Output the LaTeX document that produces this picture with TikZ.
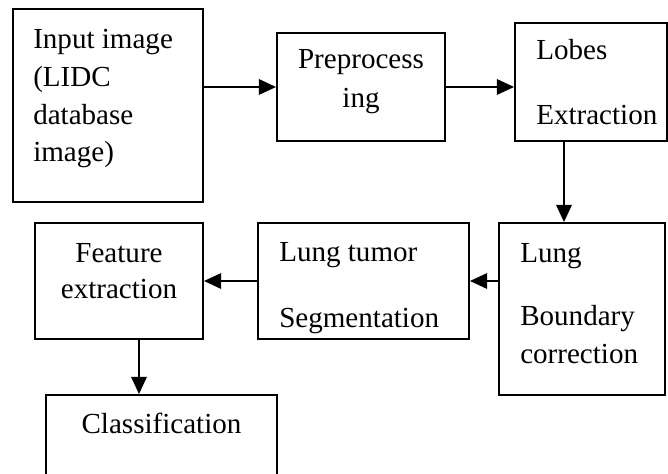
\documentclass[tikz,border=0pt]{standalone}
\usepackage{fontspec}
\setmainfont{Liberation Serif}
\usetikzlibrary{arrows.meta}

\begin{document}
\begin{tikzpicture}[x=0.75pt,y=-0.75pt,
	box/.style={draw, line width=1.3pt, inner sep=0pt},
	txt/.style={font=\fontsize{21.8pt}{28.3pt}\selectfont, inner sep=0pt},
	arr/.style={line width=1.9pt, -{Triangle[length=13pt,width=11.5pt]}}]
	\useasboundingbox (0,0) rectangle (668,474);
	% boxes
	\node[box, minimum width=142.5pt, minimum height=144.75pt] (input) at (108,105.5) {};
	\node[box, minimum width=126pt, minimum height=81pt] (prep) at (361,87) {};
	\node[box, minimum width=114pt, minimum height=88.5pt] (lobes) at (591,82) {};
	\node[box, minimum width=124.5pt, minimum height=129pt] (lung) at (582,309) {};
	\node[box, minimum width=158.25pt, minimum height=87pt] (tumor) at (363.5,281) {};
	\node[box, minimum width=126pt, minimum height=87pt] (feat) at (119,281) {};
	\node[box, minimum width=173.25pt, minimum height=78.75pt] (class) at (161.5,447.5) {};
	% labels (anchored at the baseline of the last line)
	\node[txt, anchor=base west, align=left] (tinput) at (33,162) {Input image\\(LIDC\\database\\image)};
	\node[txt, anchor=base, align=center] (tprep) at (361,108) {Preprocess\\[1.5pt]ing};
	\node[txt, anchor=base west, align=left] (tlobes) at (536,125) {Lobes\\[20.5pt]Extraction};
	\node[txt, anchor=base west, align=left] (tlung) at (520,363) {Lung\\[19pt]Boundary\\correction};
	\node[txt, anchor=base west, align=left] (ttumor) at (279,327) {Lung tumor\\[20.5pt]Segmentation};
	\node[txt, anchor=base, align=center] (tfeat) at (119,298) {Feature\\[-1.3pt]extraction};
	\node[txt, anchor=base] (tclass) at (161.5,433) {Classification};
	% arrows
	\draw[arr] (input.east |- prep.west) -- (prep.west);
	\draw[arr] (prep.east) -- (lobes.west |- prep.east);
	\draw[arr] ([xshift=-20.25pt]lobes.south) -- ([xshift=-20.25pt]lobes.south |- lung.north);
	\draw[arr] (lung.west |- tumor.east) -- (tumor.east);
	\draw[arr] (tumor.west) -- (feat.east);
	\draw[arr] ([xshift=15pt]feat.south) -- ([xshift=15pt]feat.south |- class.north);
\end{tikzpicture}
\end{document}
